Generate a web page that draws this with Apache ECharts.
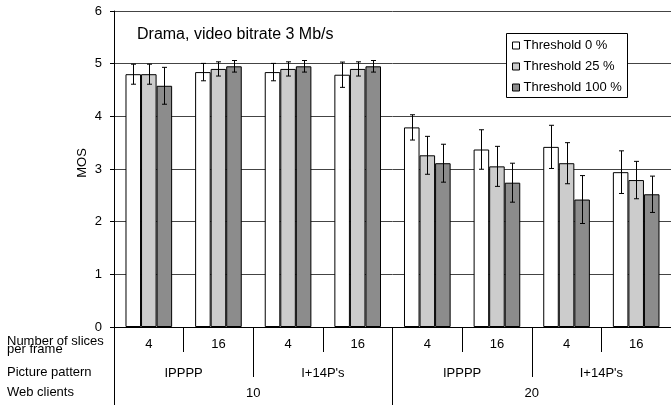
<!DOCTYPE html>
<html>
<head>
<meta charset="utf-8">
<script src="https://cdn.jsdelivr.net/npm/echarts@6/dist/echarts.min.js"></script>
<style>
  html, body { margin: 0; padding: 0; background: #fff; }
  #chart { width: 671px; height: 405px; }
</style>
</head>
<body>
<div id="chart"></div>
<script>
// Three-level category labels under the plot
const slices = ['4', '16', '4', '16', '4', '16', '4', '16'];
const patterns = ['IPPPP', "I+14P's", 'IPPPP', "I+14P's"];
const clients = ['10', '20'];

// Mean opinion scores per threshold
const seriesNames = ['Threshold 0 %', 'Threshold 25 %', 'Threshold 100 %'];
const mos0   = [4.80, 4.84, 4.84, 4.79, 3.79, 3.37, 3.42, 2.94];
const mos25  = [4.80, 4.90, 4.90, 4.90, 3.26, 3.05, 3.11, 2.79];
const mos100 = [4.58, 4.95, 4.95, 4.95, 3.11, 2.74, 2.42, 2.52];

// Half-width of the confidence intervals
const err0   = [0.19, 0.165, 0.165, 0.24, 0.24, 0.375, 0.41, 0.405];
const err25  = [0.19, 0.135, 0.135, 0.135, 0.36, 0.38, 0.39, 0.355];
const err100 = [0.35, 0.11, 0.11, 0.11, 0.36, 0.37, 0.455, 0.345];

const yTicks = [0, 1, 2, 3, 4, 5, 6];

const FONT = 'Liberation Sans, Arial, sans-serif';
const FS = 13;
const barColors = ['#ffffff', '#cccccc', '#8c8c8c'];
const CAT_GAP = 0.33;

const means = [mos0, mos25, mos100];
const errs = [err0, err25, err100];

function errorSeries(k) {
  return {
    type: 'custom',
    name: seriesNames[k] + ' CI',
    xAxisIndex: 0,
    z: 5,
    silent: true,
    data: means[k].map((v, i) => [i, v, errs[k][i]]),
    renderItem: function (params, api) {
      const i = api.value(0);
      const v = api.value(1);
      const e = api.value(2);
      const band = api.size([1, 0])[0];
      const barW = band * (1 - CAT_GAP) / 3;
      const off = (k - 1) * barW;
      const top = api.coord([i, v + e]);
      const bot = api.coord([i, v - e]);
      const x = Math.round(top[0] + off) + 0.5;
      const cap = 2.5;
      const style = { stroke: '#000', lineWidth: 1, fill: null };
      return {
        type: 'group',
        children: [
          { type: 'line', shape: { x1: x, y1: top[1], x2: x, y2: bot[1] }, style: style },
          { type: 'line', shape: { x1: x - cap, y1: top[1], x2: x + cap, y2: top[1] }, style: style },
          { type: 'line', shape: { x1: x - cap, y1: bot[1], x2: x + cap, y2: bot[1] }, style: style }
        ]
      };
    }
  };
}

const barSeries = means.map((arr, k) => ({
  type: 'bar',
  name: seriesNames[k],
  xAxisIndex: 0,
  data: arr,
  barGap: '0%',
  barCategoryGap: (CAT_GAP * 100) + '%',
  itemStyle: { color: barColors[k], borderColor: '#000', borderWidth: 1 },
  emphasis: { disabled: true }
}));

const tickStyle = { color: '#000', width: 1 };
const labelStyle = (margin) => ({ margin: margin, fontSize: FS, color: '#000', fontFamily: FONT, interval: 0 });
const sideText = (text, y) => ({
  type: 'text', x: 7, y: y, z: 20,
  style: { text: text, font: FS + 'px ' + FONT, fill: '#000', verticalAlign: 'middle' }
});

const option = {
  animation: false,
  textStyle: { fontFamily: FONT, color: '#000' },
  legend: {
    data: seriesNames,
    orient: 'vertical',
    left: 512,
    top: 38.5,
    itemWidth: 7,
    itemHeight: 7,
    itemGap: 7,
    padding: 0,
    icon: 'rect',
    z: 10,
    itemStyle: { borderColor: '#000', borderWidth: 1 },
    textStyle: { fontFamily: FONT, fontSize: FS, lineHeight: 14, color: '#000', padding: [0, 0, 0, -1] }
  },
  grid: { left: 114, right: -5, top: 11, bottom: 78, containLabel: false },
  xAxis: [
    {
      type: 'category',
      data: slices,
      position: 'bottom',
      axisLine: { show: true, lineStyle: { color: '#000', width: 1 } },
      axisTick: { show: true, length: 25, interval: 0, lineStyle: tickStyle },
      axisLabel: labelStyle(11)
    },
    {
      type: 'category',
      data: patterns,
      position: 'bottom',
      axisLine: { show: false },
      axisTick: { show: true, length: 50, interval: 0, lineStyle: tickStyle },
      axisLabel: labelStyle(40)
    },
    {
      type: 'category',
      data: clients,
      position: 'bottom',
      axisLine: { show: false },
      axisTick: { show: true, length: 78, interval: 0, lineStyle: tickStyle },
      axisLabel: labelStyle(60)
    }
  ],
  yAxis: {
    type: 'value',
    min: yTicks[0],
    max: yTicks[yTicks.length - 1],
    interval: 1,
    name: 'MOS',
    nameLocation: 'middle',
    nameGap: 25,
    nameRotate: 90,
    nameMoveOverlap: false,
    nameTextStyle: { fontFamily: FONT, fontSize: FS, color: '#000', padding: [0, 0, 0, 12] },
    axisLine: { show: true, lineStyle: { color: '#000', width: 1 } },
    axisTick: { show: true, length: 4, inside: false, lineStyle: tickStyle },
    axisLabel: { margin: 12, fontSize: FS, color: '#000', fontFamily: FONT },
    splitLine: { show: true, lineStyle: { color: '#444', width: 1 } }
  },
  graphic: [
    {
      type: 'text', x: 137, y: 35, z: 20,
      style: { text: 'Drama, video bitrate 3 Mb/s', font: '16px ' + FONT, fill: '#000', verticalAlign: 'middle' }
    },
    {
      type: 'rect', z: 5,
      shape: { x: 506.5, y: 33.5, width: 121, height: 64 },
      style: { fill: '#fff', stroke: '#000', lineWidth: 1 }
    },
    sideText('Number of slices', 341.5),
    sideText('per frame', 349.5),
    sideText('Picture pattern', 372.5),
    sideText('Web clients', 392.5)
  ],
  series: barSeries.concat([errorSeries(0), errorSeries(1), errorSeries(2)])
};

const chart = echarts.init(document.getElementById('chart'), null, { renderer: 'canvas' });
chart.setOption(option);
</script>
</body>
</html>
